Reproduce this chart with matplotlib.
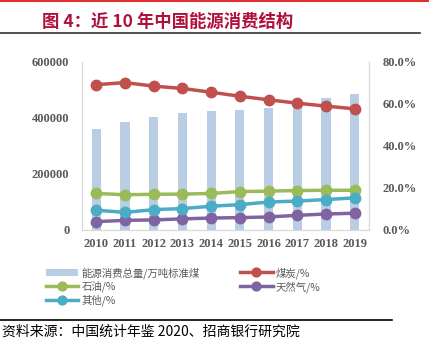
import matplotlib
matplotlib.use("Agg")
import matplotlib.pyplot as plt
from matplotlib.lines import Line2D

years = ["2010", "2011", "2012", "2013", "2014", "2015", "2016", "2017", "2018", "2019"]
total = [360648, 387043, 402138, 416913, 425806, 429905, 435819, 448529, 471925, 487000]
coal = [69.2, 70.2, 68.5, 67.4, 65.6, 63.7, 62.0, 60.4, 59.0, 57.7]
oil = [17.4, 16.8, 17.0, 17.1, 17.4, 18.3, 18.5, 18.8, 18.9, 18.9]
gas = [4.0, 4.6, 4.8, 5.3, 5.7, 5.9, 6.2, 7.0, 7.6, 8.0]
other = [9.4, 8.4, 9.7, 10.2, 11.3, 12.1, 13.3, 13.8, 14.5, 15.3]
left_ticks = [0, 200000, 400000, 600000]
right_ticks = [0, 20, 40, 60, 80]

W, H = 429, 344
fig = plt.figure(figsize=(W / 100, H / 100), dpi=100)
cjk = ["Noto Sans CJK SC", "DejaVu Sans"]
serif = ["Liberation Serif", "DejaVu Serif"]
grey = "#595959"

ax = fig.add_axes([82 / W, 1 - 230 / H, 287 / W, 168 / H])
x = list(range(len(years)))
bars = ax.bar(x, total, width=0.32, color="#B9CDE5", zorder=1)
ax.set_xlim(-0.5, 9.5)
ax.set_ylim(0, 600000)
ax.set_yticks(left_ticks)
ax.set_yticklabels([str(v) for v in left_ticks])
ax.set_xticks(x)
ax.set_xticklabels(years)

ax2 = ax.twinx()
ax2.set_ylim(0, 80)
ax2.set_yticks(right_ticks)
ax2.set_yticklabels([f"{v:.1f}%" for v in right_ticks])

specs = [(coal, "#C0504D", "煤炭/%"), (oil, "#9BBB59", "石油/%"),
         (gas, "#8064A2", "天然气/%"), (other, "#4BACC6", "其他/%")]
lines = {}
for data, col, lab in specs:
    l, = ax2.plot(x, data, color=col, lw=2.5, marker="o", ms=7.5, label=lab, zorder=3)
    lines[lab] = l

for a in (ax, ax2):
    a.spines["top"].set_visible(False)
    a.spines["left"].set_color("#D9D9D9")
    a.spines["right"].set_color("#D9D9D9")
    a.spines["bottom"].set_color("#D9D9D9")
    a.tick_params(length=0, labelsize=9, labelcolor=grey)
    for t in a.get_xticklabels() + a.get_yticklabels():
        t.set_fontfamily(serif)
        t.set_fontweight("bold")
ax.tick_params(axis="y", pad=9)
ax.tick_params(axis="x", pad=6)
ax2.tick_params(axis="y", pad=10)

handles = [bars, lines["石油/%"], lines["其他/%"], lines["煤炭/%"], lines["天然气/%"]]
labels = ["能源消费总量/万吨标准煤", "石油/%", "其他/%", "煤炭/%", "天然气/%"]
leg = fig.legend(handles, labels, loc="upper left", bbox_to_anchor=(46 / W, 1 - 267 / H),
                 ncol=2, frameon=False, prop={"family": cjk, "size": 7.5},
                 handlelength=3.1, handletextpad=0.3, columnspacing=3.9,
                 labelspacing=0.22, borderaxespad=0, borderpad=0, markerscale=0.85)
for t in leg.get_texts():
    t.set_color(grey)

# decorations
fig.add_artist(Line2D([0, 1], [1 - 1 / H, 1 - 1 / H], color="#E03030", lw=1.5, transform=fig.transFigure))
fig.add_artist(Line2D([0, 420 / W], [1 - 33 / H, 1 - 33 / H], color="#333333", lw=1.2, transform=fig.transFigure))
fig.add_artist(Line2D([0, 392 / W], [1 - 320 / H, 1 - 320 / H], color="#000000", lw=1.2, transform=fig.transFigure))

fig.text(42 / W, 1 - 22 / H, "图 4：近 10 年中国能源消费结构", family=cjk, fontsize=12.5,
         fontweight="bold", color="#B0103A", va="center", ha="left")
fig.text(2 / W, 1 - 332 / H, "资料来源：中国统计年鉴 2020、招商银行研究院", family=cjk, fontsize=10,
         color="#000000", va="center", ha="left")

fig.savefig("out.png", dpi=100)
